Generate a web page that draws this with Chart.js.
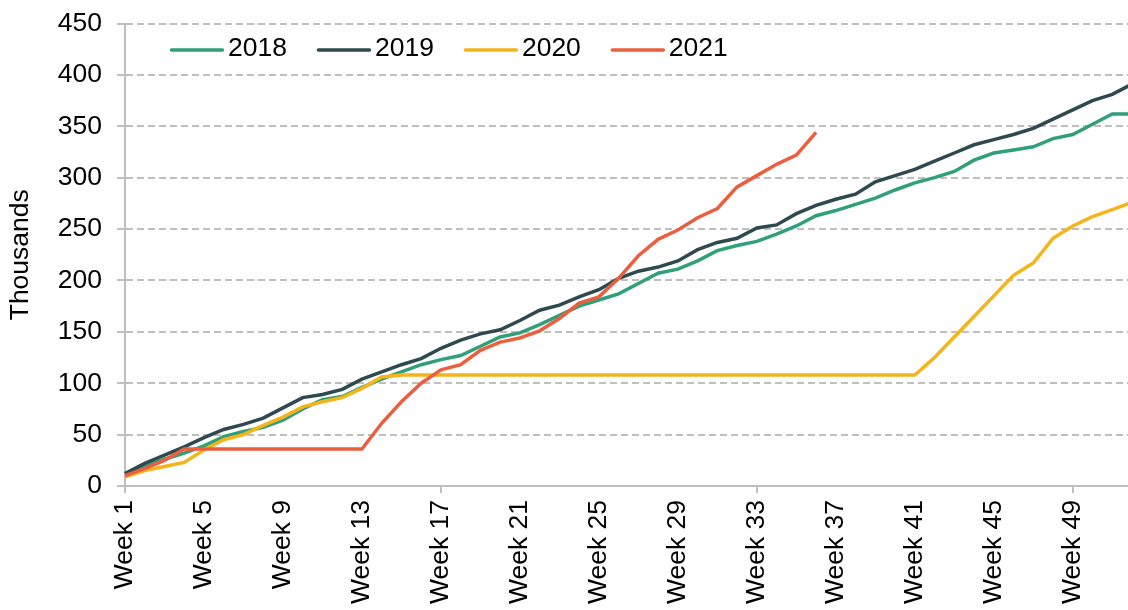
<!DOCTYPE html>
<html>
<head>
<meta charset="utf-8">
<script src="https://cdn.jsdelivr.net/npm/chart.js@4"></script>
<style>
  html, body { margin: 0; padding: 0; background: #fff; overflow: hidden; }
  canvas { display: block; }
</style>
</head>
<body>
<canvas id="chart" width="1136" height="610"></canvas>
<script>
// categories: Week 1 .. Week 52
const weeks = Array.from({ length: 52 }, (_, i) => 'Week ' + (i + 1));
const yTicks = [0, 50, 100, 150, 200, 250, 300, 350, 400, 450];

// cumulative totals, thousands
const y2018 = [12, 19, 26, 32, 39, 48, 53, 57, 64, 75,
  84, 87, 96, 104, 111, 118, 123, 127, 136, 145,
  149, 157, 166, 175, 181, 187, 197, 207, 211, 219,
  229, 234, 238, 245, 253, 263, 268, 274, 280, 288,
  295, 300, 306, 317, 324, 327, 330, 338, 342, 352,
  362, 362];
const y2019 = [12, 22, 30, 38, 47, 55, 60, 66, 76, 86,
  89, 94, 104, 111, 118, 124, 134, 142, 148, 152,
  161, 171, 176, 184, 191, 202, 209, 213, 219, 230,
  237, 241, 251, 254, 265, 273, 279, 284, 296, 302,
  308, 316, 324, 332, 337, 342, 348, 357, 366, 375,
  381, 391];
const y2020 = [9, 15, 19, 23, 35, 45, 50, 59, 67, 77,
  82, 86, 95, 106, 108, 108, 108, 108, 108, 108,
  108, 108, 108, 108, 108, 108, 108, 108, 108, 108,
  108, 108, 108, 108, 108, 108, 108, 108, 108, 108,
  108, 125, 145, 165, 185, 205, 217, 241, 253, 262,
  269, 276];
const y2021 = [10, 17, 25, 36, 36, 36, 36, 36, 36, 36,
  36, 36, 36, 61, 82, 100, 113, 118, 132, 140,
  144, 151, 163, 178, 184, 202, 224, 240, 249, 261,
  270, 291, 302, 313, 322, 344];

const FONT = '"Liberation Sans", Arial, sans-serif';
const FS = 26.5;
const GRID = '#bfbfbf';

// legend drawn inside the plot, top-left
const lineLegend = {
  id: 'lineLegend',
  afterDraw(chart) {
    const { ctx, chartArea } = chart;
    let x = chartArea.left + 45;
    const y = chartArea.top + 26.5;
    ctx.save();
    ctx.font = FS + 'px ' + FONT;
    ctx.textBaseline = 'middle';
    chart.data.datasets.forEach(ds => {
      ctx.strokeStyle = ds.borderColor;
      ctx.lineWidth = 3.5;
      ctx.lineCap = 'round';
      ctx.beginPath();
      ctx.moveTo(x + 1.5, y);
      ctx.lineTo(x + 52.5, y);
      ctx.stroke();
      x += 58;
      ctx.fillStyle = '#000';
      ctx.fillText(ds.label, x, y - 1);
      x += ctx.measureText(ds.label).width + 30;
    });
    ctx.restore();
  }
};

function series(label, data, color, order) {
  return {
    label, data, order,
    borderColor: color,
    backgroundColor: color,
    borderWidth: 3.5,
    pointRadius: 0,
    tension: 0,
    fill: false
  };
}

new Chart(document.getElementById('chart'), {
  type: 'line',
  data: {
    labels: weeks,
    datasets: [
      series('2018', y2018, '#31a078', 4),
      series('2019', y2019, '#2e4a50', 3),
      series('2020', y2020, '#f4b41a', 2),
      series('2021', y2021, '#eb5f3f', 1)
    ]
  },
  options: {
    responsive: false,
    animation: false,
    layout: { padding: { top: 23.5, right: 4, bottom: 0, left: 0 } },
    plugins: {
      legend: { display: false },
      tooltip: { enabled: false }
    },
    scales: {
      x: {
        afterFit(scale) {
          scale.height = 124;
          scale.paddingLeft = 0;
          scale.paddingRight = 0;
        },
        grid: {
          drawOnChartArea: false,
          drawTicks: true,
          tickLength: 7,
          lineWidth: 2,
          color: ctx => (ctx.index % 4 === 0 ? GRID : 'rgba(0,0,0,0)')
        },
        border: { display: true, color: GRID, width: 2 },
        ticks: {
          autoSkip: false,
          minRotation: 90,
          maxRotation: 90,
          padding: 7,
          color: '#000',
          font: { family: FONT, size: FS },
          callback(value, index) {
            return index % 4 === 0 ? this.getLabelForValue(value) : null;
          }
        }
      },
      y: {
        min: 0,
        max: 450,
        afterFit(scale) {
          scale.width = 125;
          scale.paddingTop = 0;
          scale.paddingBottom = 0;
        },
        afterBuildTicks(scale) {
          scale.ticks = yTicks.map(v => ({ value: v }));
        },
        grid: {
          color: GRID,
          lineWidth: 2,
          tickLength: 8,
          tickColor: GRID
        },
        border: { display: true, color: GRID, width: 2, dash: [7, 4] },
        ticks: {
          padding: 15,
          color: '#000',
          font: { family: FONT, size: FS }
        },
        title: {
          display: true,
          text: 'Thousands',
          color: '#000',
          padding: { top: 5, bottom: 0 },
          font: { family: FONT, size: FS }
        }
      }
    }
  },
  plugins: [lineLegend]
});
</script>
</body>
</html>
